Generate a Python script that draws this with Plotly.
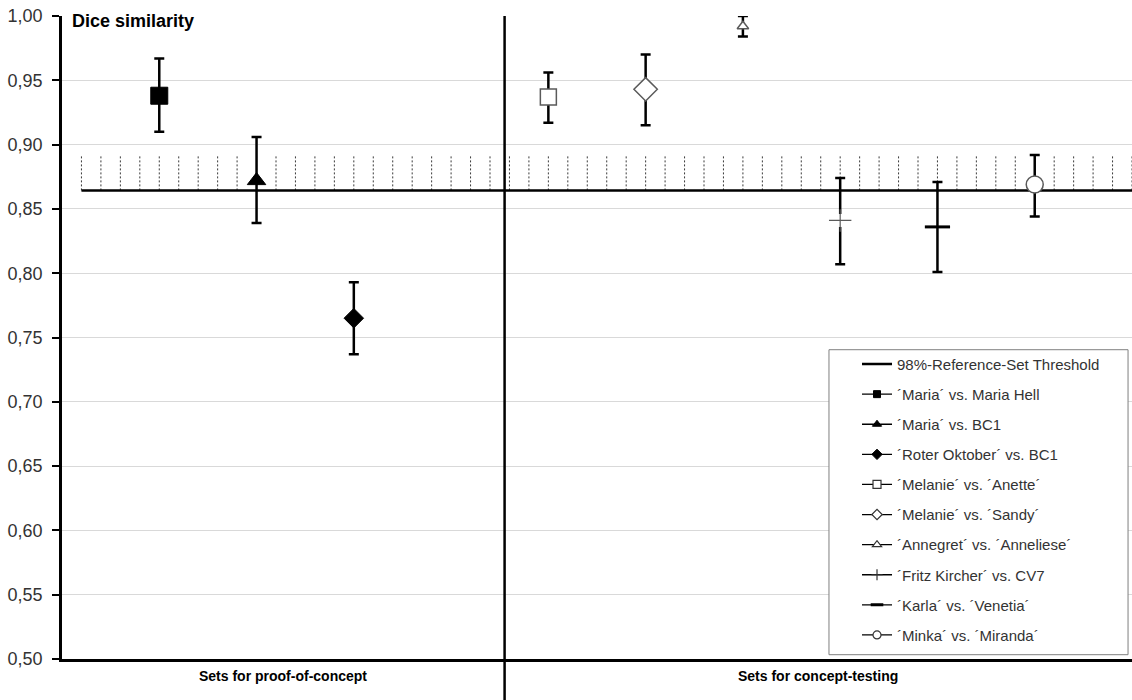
import numpy as np
import plotly.graph_objects as go

# Dice similarity per comparison: mean with lower / upper bound of the error bar
comparisons = [
    "´Maria´ vs. Maria Hell",
    "´Maria´ vs. BC1",
    "´Roter Oktober´ vs. BC1",
    "´Melanie´ vs. ´Anette´",
    "´Melanie´ vs. ´Sandy´",
    "´Annegret´ vs. ´Anneliese´",
    "´Fritz Kircher´ vs. CV7",
    "´Karla´ vs. ´Venetia´",
    "´Minka´ vs. ´Miranda´",
]
group = ["proof"] * 3 + ["testing"] * 6
dice_mean = [0.938, 0.872, 0.765, 0.937, 0.943, 0.992, 0.841, 0.836, 0.869]
dice_upper = [0.967, 0.906, 0.793, 0.956, 0.970, 1.000, 0.874, 0.871, 0.892]
dice_lower = [0.910, 0.839, 0.737, 0.917, 0.915, 0.984, 0.807, 0.801, 0.844]

threshold = 0.8644          # 98%-reference-set threshold
threshold_band_top = 0.892  # upper edge of the hatched band above the threshold

group_titles = ["Sets for proof-of-concept", "Sets for concept-testing"]
y_ticks = [0.50, 0.55, 0.60, 0.65, 0.70, 0.75, 0.80, 0.85, 0.90, 0.95, 1.00]

FONT = "Liberation Sans, Arial, sans-serif"
GREY = "#5a5a5a"

# x slots: each group gets consecutive slots, one empty slot between the groups
xpos = []
slot = 1
for i, g in enumerate(group):
    if i > 0 and g != group[i - 1]:
        slot += 1
    xpos.append(slot)
    slot += 1
X_MAX = 11.0
divider = 4.55

styles = [
    dict(symbol="square", size=17, color="black", line=dict(color="black", width=1)),
    dict(symbol="triangle-up", size=16, color="black", line=dict(color="black", width=1)),
    dict(symbol="diamond", size=15, color="black", line=dict(color="black", width=1)),
    dict(symbol="square", size=16, color="white", line=dict(color=GREY, width=1.5)),
    dict(symbol="diamond", size=18, color="white", line=dict(color=GREY, width=1.5)),
    dict(symbol="triangle-up", size=10, color="white", line=dict(color=GREY, width=1.5)),
    dict(symbol="cross-thin", size=16, color=GREY, line=dict(color=GREY, width=1.2)),
    dict(symbol="line-ew", size=18, color="black", line=dict(color="black", width=3)),
    dict(symbol="circle", size=17, color="white", line=dict(color=GREY, width=1.5)),
]
legend_styles = [
    dict(symbol="square", size=7, color="black", line=dict(color="black", width=1)),
    dict(symbol="triangle-up", size=8, color="black", line=dict(color="black", width=1)),
    dict(symbol="diamond", size=8, color="black", line=dict(color="black", width=1)),
    dict(symbol="square", size=8, color="white", line=dict(color="#333", width=1.2)),
    dict(symbol="diamond", size=8, color="white", line=dict(color="#333", width=1.2)),
    dict(symbol="triangle-up", size=8, color="white", line=dict(color="#333", width=1.2)),
    dict(symbol="cross-thin", size=8, color="#333", line=dict(color="#333", width=1.2)),
    dict(symbol="line-ew", size=9, color="black", line=dict(color="black", width=3)),
    dict(symbol="circle", size=8, color="white", line=dict(color="#333", width=1.2)),
]

fig = go.Figure()

# dotted hatching of the threshold band
hx, hy = [], []
for xv in np.round(np.arange(0.2, X_MAX + 0.01, 0.2), 2):
    hx += [xv, xv, None]
    hy += [threshold, threshold_band_top, None]
fig.add_trace(go.Scatter(x=hx, y=hy, mode="lines", showlegend=False, hoverinfo="skip",
                         line=dict(color="#3a3a3a", width=1, dash="2px,2px")))

# threshold line
fig.add_trace(go.Scatter(x=[0.2, X_MAX], y=[threshold, threshold], mode="lines",
                         name="98%-Reference-Set Threshold", legendgroup="thr",
                         line=dict(color="black", width=2.5)))

for i, name in enumerate(comparisons):
    err = dict(type="data", symmetric=False,
               array=[dice_upper[i] - dice_mean[i]],
               arrayminus=[dice_mean[i] - dice_lower[i]],
               color="black", thickness=2.5, width=5)
    st = styles[i]
    if st["symbol"] == "cross-thin":
        # white patch under the thin cross so the error bar breaks around it
        fig.add_trace(go.Scatter(x=[xpos[i]], y=[dice_mean[i]], mode="markers",
                                 showlegend=False, error_y=err,
                                 marker=dict(symbol="square", size=13, color="white",
                                             line=dict(color="white", width=0))))
        fig.add_trace(go.Scatter(x=[xpos[i]], y=[dice_mean[i]], mode="markers",
                                 showlegend=False, marker=st))
    else:
        fig.add_trace(go.Scatter(x=[xpos[i]], y=[dice_mean[i]], mode="markers",
                                 showlegend=False, error_y=err, marker=st))
    # legend entry
    fig.add_trace(go.Scatter(x=[None], y=[None], mode="lines+markers", name=name,
                             legendgroup=f"g{i}",
                             line=dict(color="black", width=1.3),
                             marker=legend_styles[i]))

# group divider extending through the category label area
fig.add_shape(type="line", xref="x", yref="paper", x0=divider, x1=divider,
              y0=-0.064, y1=1, line=dict(color="black", width=2.5), layer="above")

# legend frame
fig.add_shape(type="rect", xref="paper", yref="paper",
              x0=0.7168, x1=0.9963, y0=0.0067, y1=0.481,
              line=dict(color="#7f7f7f", width=1), fillcolor="white", layer="above")

fig.add_annotation(xref="paper", yref="paper", x=0.0075, y=1, xanchor="left",
                   yanchor="middle", yshift=-5, showarrow=False,
                   text="<b>Dice similarity</b>",
                   font=dict(family=FONT, size=18, color="black"))

centers = [divider / 2, (divider + X_MAX) / 2]
for cx, title in zip(centers, group_titles):
    fig.add_annotation(xref="x", yref="paper", x=cx, y=-0.026, yanchor="middle",
                       showarrow=False, text=f"<b>{title}</b>",
                       font=dict(family=FONT, size=14, color="black"))

fig.update_layout(
    width=1132, height=700,
    margin=dict(l=62, r=0, t=16, b=41),
    paper_bgcolor="white", plot_bgcolor="white",
    separators=",.",
    font=dict(family=FONT, color="#333"),
    showlegend=True,
    legend=dict(x=0.743, y=0.484, xanchor="left", yanchor="top",
                bgcolor="rgba(0,0,0,0)", borderwidth=0,
                font=dict(family=FONT, size=15, color="#333"),
                tracegroupgap=7.6, traceorder="grouped"),
    xaxis=dict(range=[0, X_MAX], showgrid=False, zeroline=False, showticklabels=False,
               ticks="", showline=True, linecolor="black", linewidth=2.5, fixedrange=True),
    yaxis=dict(range=[0.5, 1.0], tickvals=y_ticks, tickformat=".2f",
               showgrid=True, gridcolor="#d9d9d9", gridwidth=1, zeroline=False,
               showline=True, linecolor="black", linewidth=2.5,
               ticks="outside", ticklen=7, tickwidth=2, tickcolor="black",
               ticklabelstandoff=6,
               tickfont=dict(family=FONT, size=18, color="#333")),
)

fig.write_html("out.html")
